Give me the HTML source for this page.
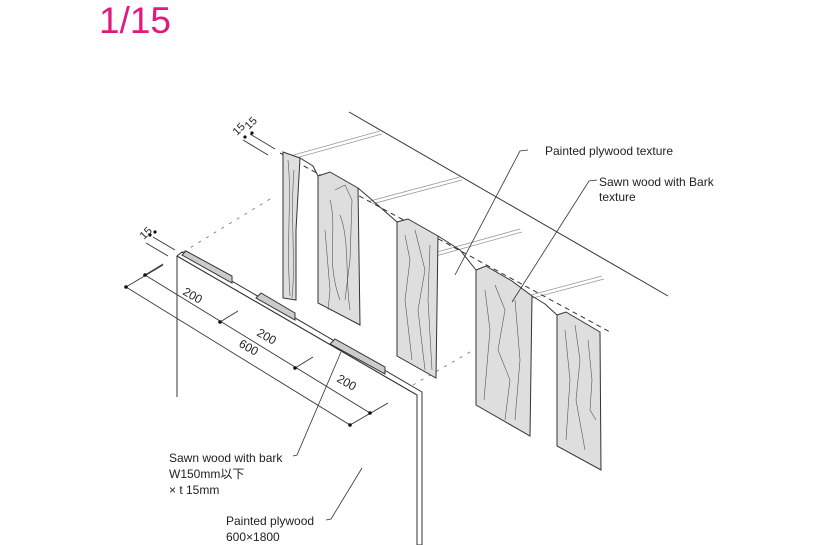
<!DOCTYPE html>
<html><head><meta charset="utf-8"><style>
html,body{margin:0;padding:0;background:#fff;}
svg{display:block;}
text{font-family:"Liberation Sans","Noto Sans CJK JP",sans-serif;fill:#222;}
</style></head><body>
<svg width="818" height="545" viewBox="0 0 818 545" xmlns="http://www.w3.org/2000/svg">
<text x="99" y="33" font-size="37" style="fill:#e0197d">1/15</text>
<g stroke="#333" stroke-width="1" fill="none">
<line x1="349" y1="112" x2="668" y2="296"/>
<g stroke="#999" stroke-width="0.8">
<line x1="290" y1="156" x2="380" y2="131"/><line x1="292" y1="159" x2="382" y2="134"/>
<line x1="370" y1="201" x2="460" y2="177"/><line x1="372" y1="204" x2="462" y2="180"/>
<line x1="430" y1="254" x2="520" y2="229"/><line x1="432" y1="257" x2="522" y2="232"/>
<line x1="512" y1="300" x2="602" y2="276"/><line x1="514" y1="303" x2="604" y2="279"/>
</g>
<line x1="280" y1="153" x2="610" y2="332" stroke-dasharray="5,4"/>
<line x1="183" y1="252" x2="275" y2="196" stroke="#888" stroke-dasharray="3,6"/>
<line x1="413" y1="385" x2="520" y2="323" stroke="#888" stroke-dasharray="3,6"/>
</g>
<g stroke="#333" stroke-width="1" fill="#dedede">
<path d="M283,152 L300,158 L296,230 L296,300 L283,298 Z"/>
<path d="M318,176 L330,172 L358,188 L360,325 L318,303 Z"/>
<path d="M397,222 L408,219 L438,236 L436,378 L397,356 Z"/>
<path d="M476,270 L486,266 L512,281 L532,296 L530,436 L476,405 Z"/>
<path d="M557,315 L566,312 L600,332 L601,470 L557,446 Z"/>
</g>
<g stroke="#333" stroke-width="1" fill="none">
<polyline points="300,158 313,166 318,176"/>
<polyline points="358,188 372,200 397,222"/>
<polyline points="438,236 460,250 476,270"/>
<polyline points="532,296 545,304 557,315"/>
</g>
<g stroke="#555" stroke-width="0.6" fill="none">
<path d="M288,160 C292,200 286,240 290,296"/><path d="M294,170 C290,220 296,260 292,298"/>
<path d="M335,190 L345,185 L352,200 L350,260 L345,300"/><path d="M330,200 C338,230 325,260 340,300"/>
<path d="M340,215 C350,240 345,280 350,310"/><path d="M325,230 L330,290 L328,310"/>
<path d="M405,235 L410,260 L405,300 L412,360"/><path d="M415,230 L425,270 L418,310 L425,370"/><path d="M430,245 L428,300 L432,370"/>
<path d="M485,290 L490,330 L484,400"/><path d="M495,285 L505,310 L498,350 L510,380 L505,420"/><path d="M515,300 L520,360 L515,420"/>
<path d="M565,330 L570,380 L566,440"/><path d="M575,325 L580,360 L576,400 L585,450"/><path d="M588,340 L592,380 L590,410 L596,420"/>
</g>
<g stroke="#333" stroke-width="1" fill="#fff">
<path d="M177,256 L182,252 L422,392 L422,545 L417,545 L417,395 Z"/>
<line x1="177" y1="256" x2="177" y2="397"/>
<line x1="177" y1="256" x2="417" y2="395"/>
<path d="M182,255 L186,251 L232,276 L232,283 Z" fill="#ccc"/>
<path d="M256,298 L261,293 L295,313 L295,320 Z" fill="#ccc"/>
<path d="M330,344 L335,339 L385,367 L385,374 Z" fill="#ccc"/>
</g>
<g stroke="#333" stroke-width="0.9" fill="none">
<line x1="126" y1="287" x2="350" y2="425"/>
<line x1="145" y1="275" x2="370" y2="413"/>
<line x1="126" y1="287" x2="163" y2="265"/>
<line x1="145" y1="275" x2="163" y2="264"/>
<line x1="220" y1="322" x2="238" y2="311"/>
<line x1="295" y1="368" x2="313" y2="357"/>
<line x1="350" y1="425" x2="388" y2="403"/>
<line x1="243" y1="140" x2="268" y2="155"/><line x1="250" y1="134" x2="275" y2="149"/>
<line x1="153" y1="237" x2="175" y2="250"/><line x1="146" y1="243" x2="168" y2="256"/>
</g>
<g fill="#111">
<circle cx="126" cy="287" r="1.8"/><circle cx="145" cy="275" r="1.8"/><circle cx="220" cy="322" r="1.8"/>
<circle cx="295" cy="368" r="1.8"/><circle cx="370" cy="413" r="1.8"/><circle cx="350" cy="425" r="1.8"/>
<circle cx="245" cy="137" r="1.6"/><circle cx="252" cy="133" r="1.6"/><circle cx="150" cy="235" r="1.6"/><circle cx="155" cy="232" r="1.6"/>
</g>
<g font-size="12">
<text transform="translate(182,294) rotate(30)">200</text>
<text transform="translate(256,335) rotate(30)">200</text>
<text transform="translate(238,346) rotate(30)">600</text>
<text transform="translate(336,381) rotate(30)">200</text>
<text transform="translate(237,136) rotate(-45)" font-size="11">15</text>
<text transform="translate(249,130) rotate(-45)" font-size="11">15</text>
<text transform="translate(144,240) rotate(-45)" font-size="11">15</text>
</g>
<g stroke="#333" stroke-width="0.8" fill="none">
<polyline points="528,150 520,151 455,275"/>
<polyline points="597,180 589,181 512,302"/>
<polyline points="293,456 297,455 341,352"/>
<polyline points="326,520 331,519 362,468"/>
</g>
<g font-size="12">
<text x="545" y="155">Painted plywood texture</text>
<text x="599" y="186">Sawn wood with Bark</text>
<text x="599" y="201">texture</text>
<text x="169" y="462">Sawn wood with bark</text>
<text x="169" y="478">W150mm以下</text>
<text x="169" y="494">× t 15mm</text>
<text x="226" y="525">Painted plywood</text>
<text x="226" y="541">600×1800</text>
</g>
</svg>
</body></html>
